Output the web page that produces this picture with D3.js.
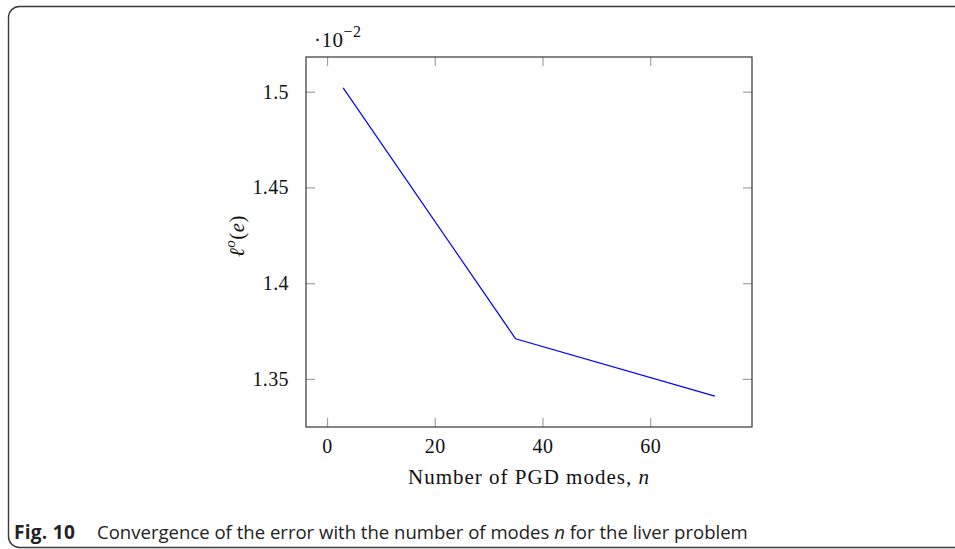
<!DOCTYPE html>
<html>
<head>
<meta charset="utf-8">
<script src="https://cdn.jsdelivr.net/npm/d3@7"></script>
<style>
  body { margin: 0; background: white; }
  .tick line { stroke: #a0a0a0; stroke-width: 1.2; }
  .tick text { font-family: "Liberation Serif", serif; font-size: 20px; fill: #111; letter-spacing: 0.4px; }
</style>
</head>
<body>
<script>
// error values are in units of 1e-2 (axis shows the ·10^-2 multiplier)
const modes = [3, 35, 72];
const errors = [1.502, 1.371, 1.341];
const xTicks = [0, 20, 40, 60];
const yTicks = [1.35, 1.4, 1.45, 1.5];
const yTickLabels = ["1.35", "1.4", "1.45", "1.5"];

function drawChart() {
    const W = 955, H = 549;
    const svg = d3.select("body").append("svg")
        .attr("width", W)
        .attr("height", H);

    // outer figure frame, rounded top-left and bottom-left
    svg.append("rect")
        .attr("x", 8.5).attr("y", 6.5)
        .attr("width", 990).attr("height", 541)
        .attr("rx", 11)
        .attr("fill", "none")
        .attr("stroke", "#3a3a3a")
        .attr("stroke-width", 1.4);

    const box = {left: 306, right: 752, top: 57, bottom: 427};

    // pgfplots style: 10% enlargement of the data range
    const xr = d3.extent(modes), yr = d3.extent(errors);
    const xPad = (xr[1] - xr[0]) * 0.1, yPad = (yr[1] - yr[0]) * 0.1;
    const x = d3.scaleLinear().domain([xr[0] - xPad, xr[1] + xPad]).range([box.left, box.right]);
    const y = d3.scaleLinear().domain([yr[0] - yPad, yr[1] + yPad]).range([box.bottom, box.top]);

    const g = svg.append("g");

    g.append("g").attr("transform", `translate(0,${box.bottom})`)
        .call(d3.axisBottom(x).tickValues(xTicks).tickSize(-9).tickPadding(12).tickFormat(d3.format("d")))
        .call(a => a.select(".domain").remove());
    g.append("g").attr("transform", `translate(0,${box.top})`)
        .call(d3.axisTop(x).tickValues(xTicks).tickSize(-9).tickFormat(""))
        .call(a => a.select(".domain").remove());
    g.append("g").attr("transform", `translate(${box.left},0)`)
        .call(d3.axisLeft(y).tickValues(yTicks).tickSize(-9).tickPadding(17)
            .tickFormat((d, i) => yTickLabels[i]))
        .call(a => a.select(".domain").remove());
    g.append("g").attr("transform", `translate(${box.right},0)`)
        .call(d3.axisRight(y).tickValues(yTicks).tickSize(-9).tickFormat(""))
        .call(a => a.select(".domain").remove());

    // the data line
    const line = d3.line().x((d, i) => x(modes[i])).y(d => y(d));
    g.append("path")
        .datum(errors)
        .attr("d", line)
        .attr("fill", "none")
        .attr("stroke", "#0000ff")
        .attr("stroke-width", 1.2);

    // axis box
    g.append("rect")
        .attr("x", box.left).attr("y", box.top)
        .attr("width", box.right - box.left).attr("height", box.bottom - box.top)
        .attr("fill", "none")
        .attr("stroke", "#444")
        .attr("stroke-width", 1.3);

    // ·10^-2 multiplier
    const mult = svg.append("text")
        .attr("x", 314).attr("y", 47)
        .attr("font-family", "Liberation Serif, serif")
        .attr("font-size", 21)
        .attr("letter-spacing", 0.5)
        .attr("fill", "#111");
    mult.append("tspan").text("·10");
    mult.append("tspan").attr("dy", -10).attr("font-size", 16).text("−2");

    // x label
    const xl = svg.append("text")
        .attr("x", (box.left + box.right) / 2).attr("y", 484)
        .attr("text-anchor", "middle")
        .attr("font-family", "Liberation Serif, serif")
        .attr("font-size", 21)
        .attr("letter-spacing", 1)
        .attr("fill", "#111");
    xl.append("tspan").text("Number of PGD modes, ");
    xl.append("tspan").attr("font-style", "italic").text("n");

    // y label
    const yl = svg.append("text")
        .attr("transform", `translate(244,${(box.top + box.bottom) / 2 - 6}) rotate(-90)`)
        .attr("text-anchor", "middle")
        .attr("font-family", "Liberation Serif, serif")
        .attr("font-size", 21)
        .attr("letter-spacing", 0.5)
        .attr("fill", "#111");
    yl.append("tspan").attr("font-style", "italic").text("ℓ");
    yl.append("tspan").attr("dy", -9).attr("font-size", 15).attr("font-style", "italic").text("o");
    yl.append("tspan").attr("dy", 9).text("(");
    yl.append("tspan").attr("font-style", "italic").text("e");
    yl.append("tspan").text(")");

    // caption
    svg.append("text")
        .attr("x", 14).attr("y", 539)
        .attr("font-family", "Open Sans, sans-serif")
        .attr("font-size", 19)
        .attr("font-weight", "bold")
        .attr("letter-spacing", 0.3)
        .attr("fill", "#222")
        .text("Fig. 10");
    const cap = svg.append("text")
        .attr("x", 97).attr("y", 539)
        .attr("font-family", "Open Sans, sans-serif")
        .attr("font-size", 18)
        .attr("fill", "#222");
    cap.append("tspan").text("Convergence of the error with the number of modes ");
    cap.append("tspan").attr("font-style", "italic").text("n");
    cap.append("tspan").text(" for the liver problem");
    // squeeze the caption to the width it has in the figure
    const w = cap.node().getComputedTextLength();
    cap.attr("font-size", 18 * 651 / w);
}

document.addEventListener("DOMContentLoaded", drawChart);
</script>
</body>
</html>
